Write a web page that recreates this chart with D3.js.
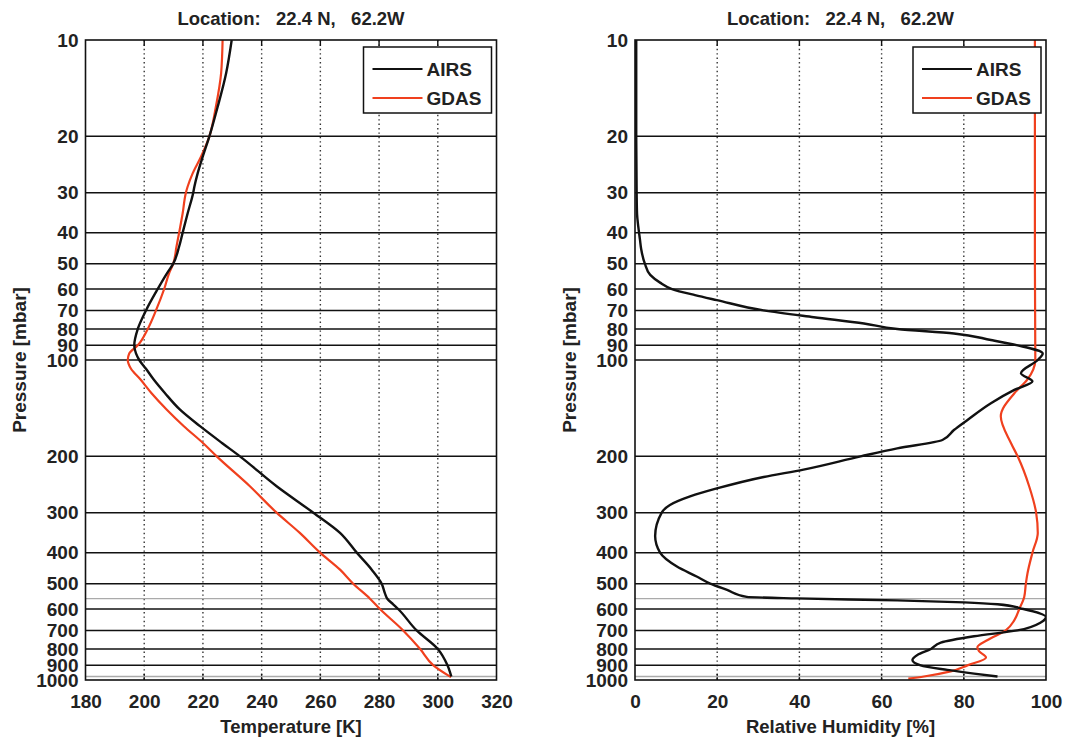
<!DOCTYPE html>
<html>
<head>
<meta charset="utf-8">
<script src="https://cdn.jsdelivr.net/npm/d3@7"></script>
<style>
  body { margin: 0; background: #fff; }
  svg text { font-family: "Liberation Sans", Arial, sans-serif; font-weight: bold; fill: #222; }
</style>
</head>
<body>
<div id="chart"></div>
<script>
let width = 1066;
let height = 738;

// Pressure levels on the y axis (mbar)
let pressureTicks = [10, 20, 30, 40, 50, 60, 70, 80, 90, 100, 200, 300, 400, 500, 600, 700, 800, 900, 1000];
let grayLevels = [557, 975];

// Temperature panel
let tempTicks = [180, 200, 220, 240, 260, 280, 300, 320];
let tempAirsP = [10, 12.7, 16.2, 20, 23.2, 26.1, 28.7, 30, 34.8, 40, 44.2, 50, 53.5, 60, 70, 80, 90, 95.4, 100, 106.5,
    114.7, 127, 143, 161, 182, 200, 248, 300, 347, 400, 452, 500, 536, 557, 580, 600, 700, 800, 900, 975];
let tempAirs = [229.8, 227.9, 225.0, 222.2, 219.9, 218.2, 217.1, 216.7, 214.8, 213.1, 211.9, 209.9, 207.8, 204.6, 200.6, 197.8, 196.6, 197.2, 198.3, 200.6,
    203.1, 207.1, 212.2, 219.0, 226.6, 232.6, 245.1, 257.6, 266.7, 272.4, 277.5, 280.9, 282.0, 282.8, 284.8, 286.5, 292.8, 300.0, 303.3, 304.6];
let tempGdasP = [10, 12.7, 16.2, 20, 23.2, 26.1, 28.7, 30, 34.8, 40, 44.2, 50, 53.5, 60, 70, 80, 90, 95.4, 100, 106.5,
    114.7, 127, 143, 161, 182, 200, 248, 300, 347, 400, 452, 500, 557, 600, 700, 800, 900, 980];
let tempGdas = [226.7, 226.2, 224.4, 222.2, 219.3, 216.5, 214.8, 214.2, 213.1, 211.9, 211.0, 209.9, 208.5, 206.8, 204.0, 201.2, 197.8, 194.9, 194.4, 195.5,
    198.6, 202.5, 207.7, 213.5, 220.1, 224.7, 236.0, 245.1, 253.0, 259.9, 266.7, 271.2, 276.9, 280.3, 288.2, 294.0, 298.5, 304.5];

// Relative humidity panel
let rhTicks = [0, 20, 40, 60, 80, 100];
let rhAirsP = [10, 20, 30, 35, 38.3, 42, 45, 50, 54.2, 57.3, 60, 62.7, 65, 70, 73.5, 76.9, 80, 82.6, 86.6, 90, 95.4, 100,
    110, 116.6, 124, 136.5, 153.9, 165.5, 177.8, 188.8, 200, 220, 232, 252, 267, 284, 300, 355, 400, 442, 475, 500,
    523, 550, 556, 564, 572, 580, 600, 636, 660, 700, 730, 764, 800, 835, 866, 900, 930, 955, 975];
let rhAirs = [0.3, 0.3, 0.4, 0.5, 0.8, 1.2, 1.5, 2.4, 3.7, 6.1, 9.0, 14.6, 19.9, 31.3, 43.5, 55.7, 63.8, 77.6, 86.6, 93.1, 99.2, 98.0,
    93.9, 96.7, 92.3, 86.6, 80.9, 77.6, 74.8, 63.8, 54.9, 41.0, 31.3, 19.9, 13.4, 8.5, 6.5, 4.9, 6.1, 10.2, 15.0, 18.3,
    22.4, 27.2, 39.4, 63.8, 80.1, 88.2, 94.5, 100, 98.8, 93.0, 82.5, 74.4, 72.0, 68.7, 67.5, 69.5, 76.0, 82.5, 88.2];
let rhGdasP = [10, 50, 100, 115, 127, 150, 182, 200, 248, 300, 347, 400, 464, 500, 550, 600, 650, 700, 750, 790, 813, 850, 900, 940, 975, 990];
let rhGdas = [97.3, 97.3, 97.4, 95.5, 92.3, 89.0, 91.5, 93.1, 95.9, 97.6, 98.0, 96.7, 95.5, 95.1, 94.7, 93.5, 92.3, 90.2, 85.8, 83.3, 83.7, 85.4, 80.9, 76.8, 70.3, 66.5];

let title = "Location:   22.4 N,   62.2W";
let seriesNames = ["AIRS", "GDAS"];
let seriesColors = ["#111", "#f0401e"];

let plotTop = 40, plotBottom = 680, panelWidth = 411;

let svg = d3.select("#chart").append("svg")
    .attr("width", width)
    .attr("height", height);

let y = d3.scaleLog().domain([10, 1000]).range([plotTop, plotBottom]);

function drawPanel(left, xDomain, xTicks, xLabel, airsP, airsV, gdasP, gdasV) {
    let right = left + panelWidth;
    let x = d3.scaleLinear().domain(xDomain).range([left, right]);
    let g = svg.append("g");

    // dotted vertical grid
    g.selectAll(".vgrid")
        .data(xTicks.slice(1, -1))
        .enter().append("line")
        .attr("x1", d => x(d)).attr("x2", d => x(d))
        .attr("y1", plotTop).attr("y2", plotBottom)
        .attr("stroke", "#333")
        .attr("stroke-width", 1.4)
        .attr("stroke-dasharray", "1.4,3");

    // small tick marks inside at top and bottom
    xTicks.slice(1, -1).forEach(function(d) {
        g.append("line").attr("x1", x(d)).attr("x2", x(d)).attr("y1", plotTop).attr("y2", plotTop + 6)
            .attr("stroke", "#111").attr("stroke-width", 1.4);
        g.append("line").attr("x1", x(d)).attr("x2", x(d)).attr("y1", plotBottom - 6).attr("y2", plotBottom)
            .attr("stroke", "#111").attr("stroke-width", 1.4);
    });

    // gray extra levels
    g.selectAll(".glevel")
        .data(grayLevels)
        .enter().append("line")
        .attr("x1", left).attr("x2", right)
        .attr("y1", d => y(d)).attr("y2", d => y(d))
        .attr("stroke", "#aaa")
        .attr("stroke-width", 1.4);

    // solid horizontal pressure lines
    g.selectAll(".hgrid")
        .data(pressureTicks.slice(1, -1))
        .enter().append("line")
        .attr("x1", left).attr("x2", right)
        .attr("y1", d => y(d)).attr("y2", d => y(d))
        .attr("stroke", "#111")
        .attr("stroke-width", 1.5);

    // profiles
    let clip = "clip" + Math.round(left);
    svg.append("clipPath").attr("id", clip)
        .append("rect").attr("x", left).attr("y", plotTop).attr("width", panelWidth).attr("height", plotBottom - plotTop);

    let line = d3.line()
        .x(d => x(d[1]))
        .y(d => y(d[0]))
        .curve(d3.curveMonotoneY);

    g.append("path")
        .datum(d3.zip(gdasP, gdasV))
        .attr("clip-path", "url(#" + clip + ")")
        .attr("fill", "none")
        .attr("stroke", seriesColors[1])
        .attr("stroke-width", 2.2)
        .attr("stroke-linejoin", "round")
        .attr("d", line);

    g.append("path")
        .datum(d3.zip(airsP, airsV))
        .attr("clip-path", "url(#" + clip + ")")
        .attr("fill", "none")
        .attr("stroke", seriesColors[0])
        .attr("stroke-width", 2.4)
        .attr("stroke-linejoin", "round")
        .attr("d", line);

    // axes box
    g.append("rect")
        .attr("x", left).attr("y", plotTop)
        .attr("width", panelWidth).attr("height", plotBottom - plotTop)
        .attr("fill", "none")
        .attr("stroke", "#111")
        .attr("stroke-width", 1.6);

    // y axis labels
    let yAxis = d3.axisLeft(y)
        .tickValues(pressureTicks)
        .tickFormat(d3.format("d"))
        .tickSize(0)
        .tickPadding(7);
    let ya = g.append("g").attr("transform", "translate(" + left + ",0)").call(yAxis);
    ya.select(".domain").remove();
    ya.attr("font-family", null).attr("font-size", null);
    ya.selectAll("text").style("font-size", "19px").attr("fill", null);

    // x axis labels
    let xAxis = d3.axisBottom(x)
        .tickValues(xTicks)
        .tickFormat(d3.format("d"))
        .tickSize(0)
        .tickPadding(14.5);
    let xa = g.append("g").attr("transform", "translate(0," + plotBottom + ")").call(xAxis);
    xa.select(".domain").remove();
    xa.attr("font-family", null).attr("font-size", null);
    xa.selectAll("text").style("font-size", "19px").attr("fill", null);

    // titles
    g.append("text")
        .attr("x", (left + right) / 2).attr("y", 25)
        .attr("text-anchor", "middle")
        .style("font-size", "18.5px")
        .style("white-space", "pre")
        .attr("fill", "#333")
        .text(title);

    g.append("text")
        .attr("x", (left + right) / 2).attr("y", 733)
        .attr("text-anchor", "middle")
        .style("font-size", "18.5px")
        .text(xLabel);

    g.append("text")
        .attr("transform", "translate(" + (left - 59.5) + "," + ((plotTop + plotBottom) / 2) + ") rotate(-90)")
        .attr("text-anchor", "middle")
        .style("font-size", "19px")
        .text("Pressure [mbar]");

    // legend
    let lx = right - 133, ly = 47;
    let legend = g.append("g").attr("transform", "translate(" + lx + "," + ly + ")");
    legend.append("rect")
        .attr("width", 128).attr("height", 66)
        .attr("fill", "#fff")
        .attr("stroke", "#111")
        .attr("stroke-width", 1.5);
    seriesNames.forEach(function(name, i) {
        legend.append("line")
            .attr("x1", 9).attr("x2", 59)
            .attr("y1", 22 + i * 29).attr("y2", 22 + i * 29)
            .attr("stroke", seriesColors[i])
            .attr("stroke-width", 2.2);
        legend.append("text")
            .attr("x", 63).attr("y", 29 + i * 29)
            .style("font-size", "19px")
            .text(name);
    });
}

drawPanel(85.5, [180, 320], tempTicks, "Temperature [K]", tempAirsP, tempAirs, tempGdasP, tempGdas);
drawPanel(635, [0, 100], rhTicks, "Relative Humidity [%]", rhAirsP, rhAirs, rhGdasP, rhGdas);
</script>
</body>
</html>
